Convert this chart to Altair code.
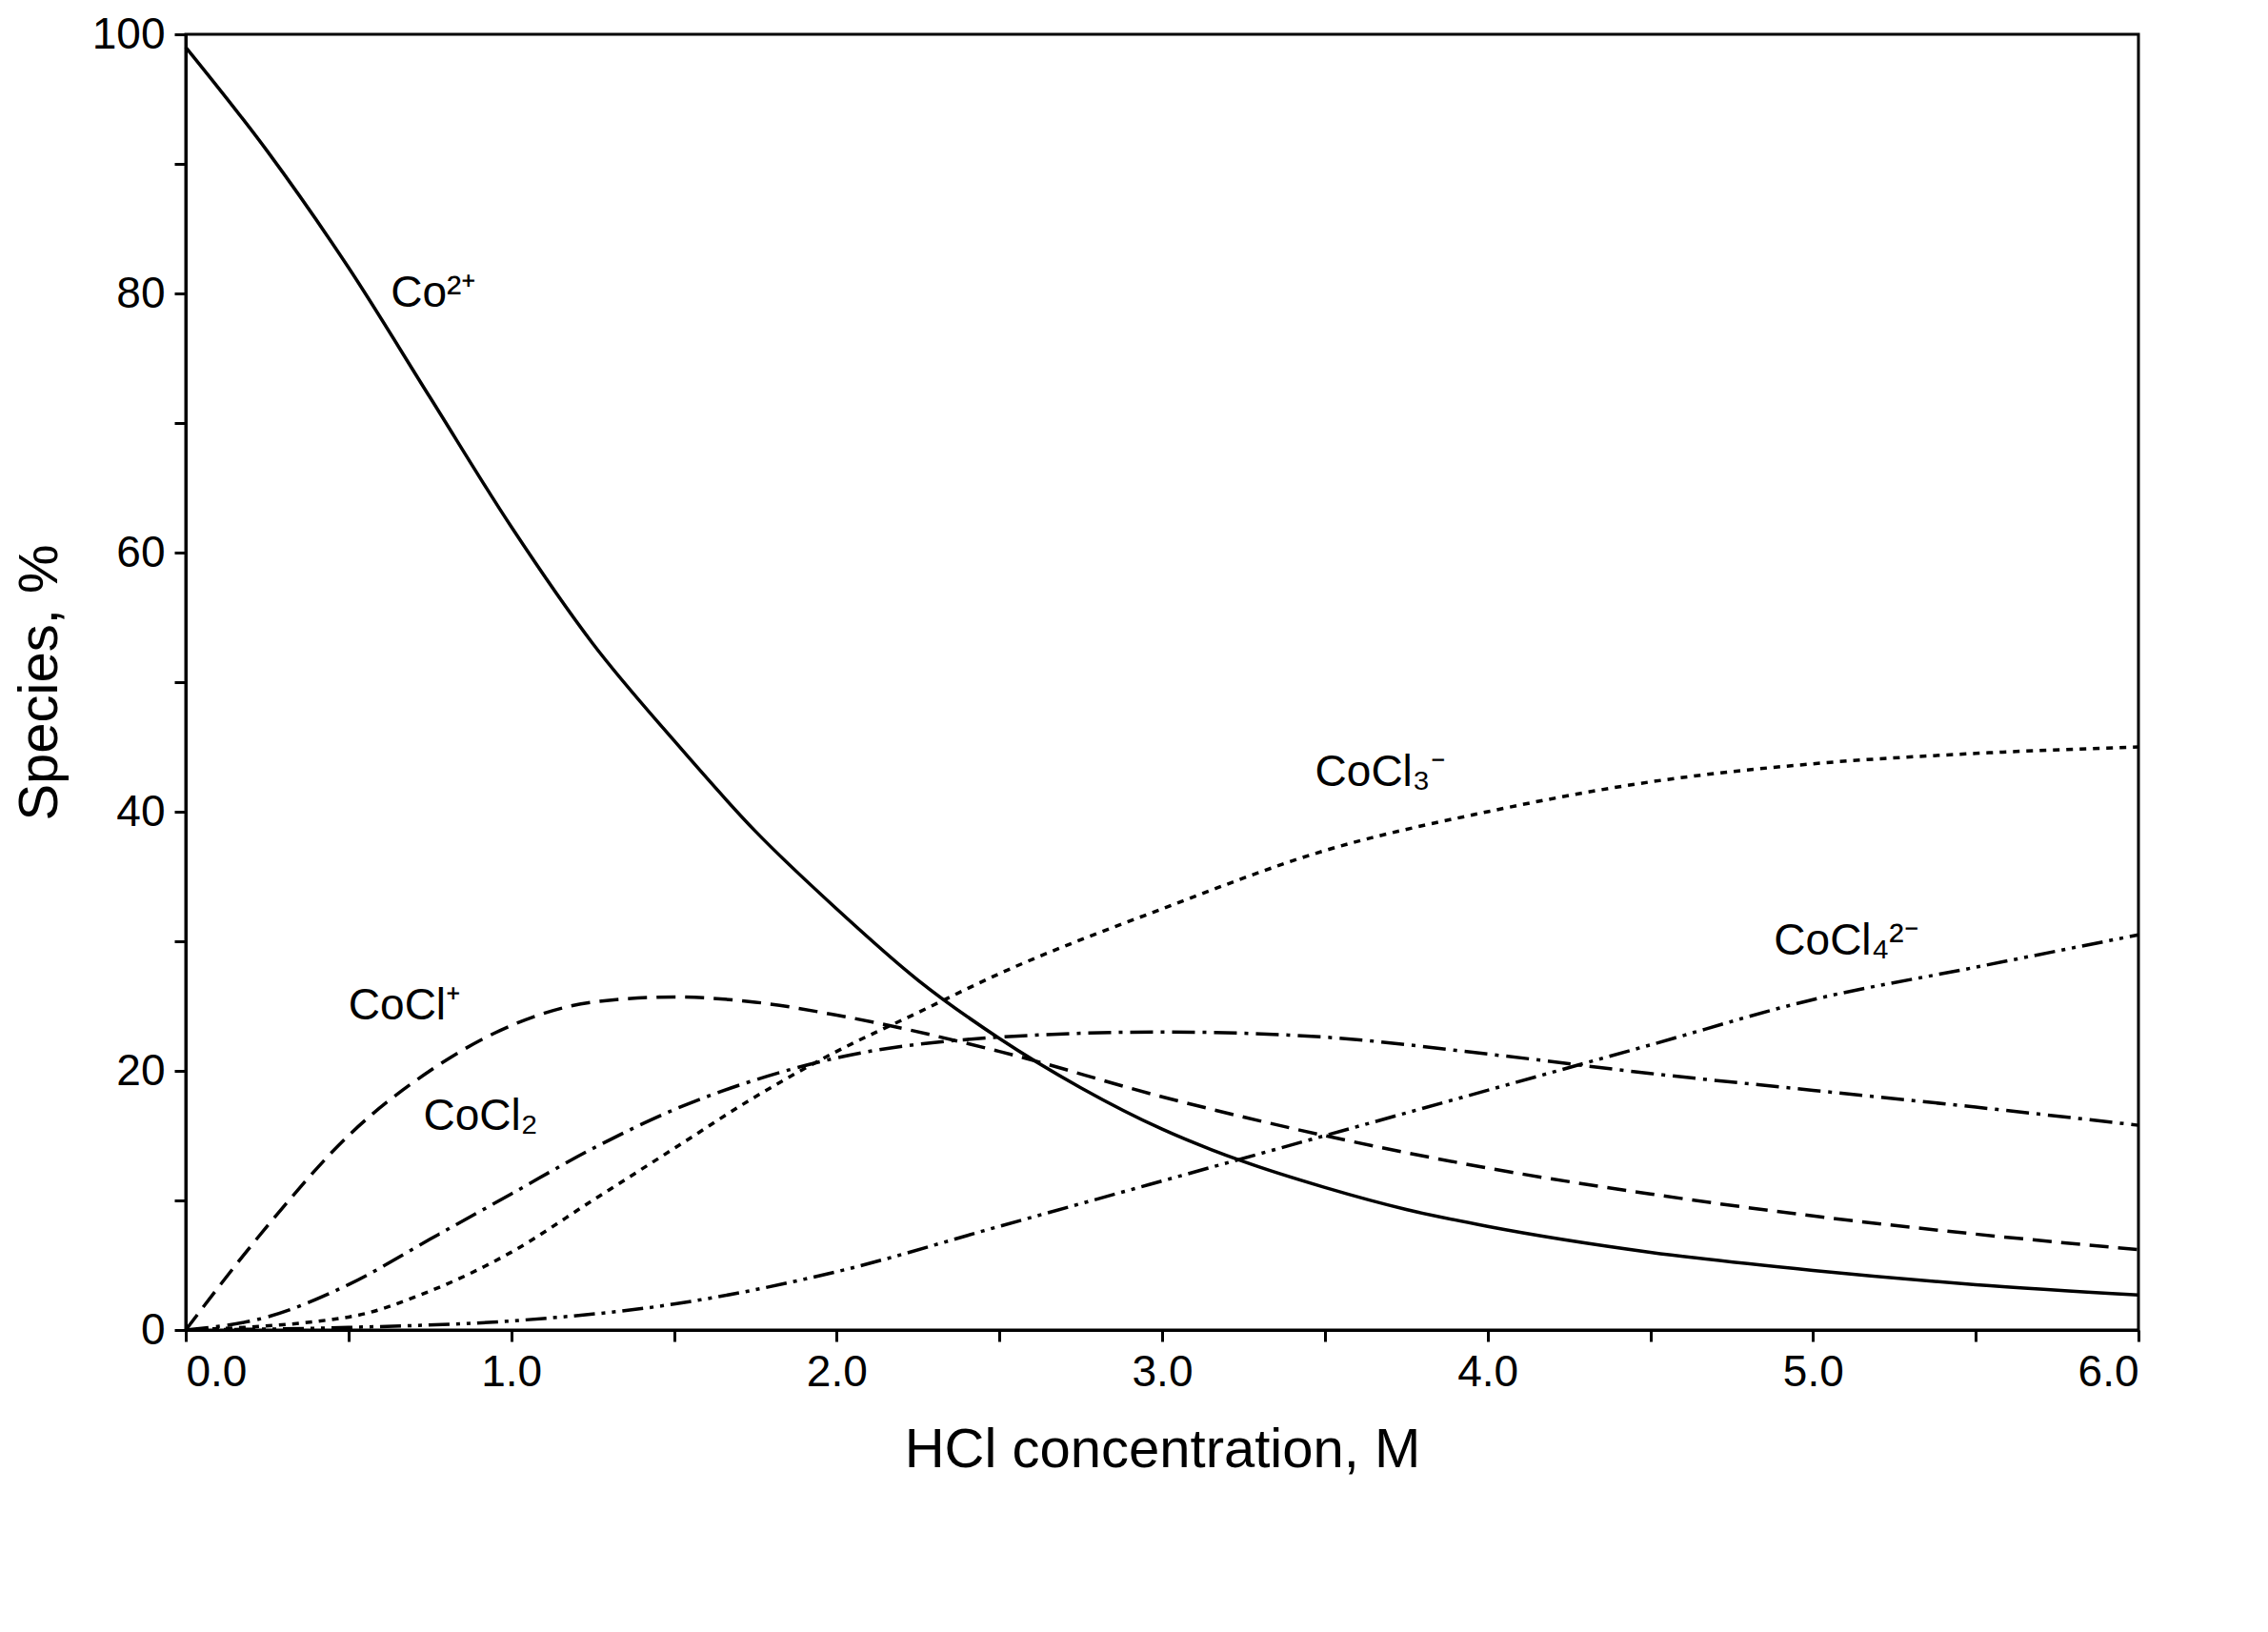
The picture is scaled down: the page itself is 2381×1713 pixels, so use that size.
import altair as alt
import pandas as pd

x_co = [0,0.25,0.5,0.75,1,1.25,1.5,1.75,2,2.25,2.5,2.75,3,3.25,3.5,3.75,4,4.5,5,5.5,6]
y_co = [99,91,82,72,62,53,45.5,38.5,32.5,27,22.5,18.7,15.5,13,11,9.3,8,6,4.6,3.5,2.7]
x_c1 = [0,0.25,0.5,0.75,1,1.25,1.5,1.75,2,2.5,3,3.5,4,4.5,5,5.5,6]
y_c1 = [0,8,15,20,23.5,25.3,25.7,25.3,24.3,21.5,18,15,12.5,10.5,8.8,7.4,6.2]
x_c2 = [0,0.25,0.5,0.75,1,1.25,1.5,1.75,2,2.5,3,3.5,4,4.5,5,5.5,6]
y_c2 = [0,1,3.5,7,10.5,14,17,19.3,21,22.6,23,22.6,21.3,19.8,18.5,17.2,15.8]
x_c3 = [0,0.5,0.75,1,1.25,1.5,1.75,2,2.25,2.5,3,3.5,4,4.5,5,5.5,6]
y_c3 = [0,1,3,6,10,14,18,21.5,24.5,27.5,32.5,37,40,42.3,43.7,44.5,45]
x_c4 = [0,0.5,1,1.5,2,2.5,3,3.5,4,4.5,5,5.5,6]
y_c4 = [0,0.2,0.7,2,4.5,8,11.5,15,18.5,22,25.5,28,30.5]

label_text = ["Co²⁺", "CoCl⁺", "CoCl₂", "CoCl₃⁻", "CoCl₄²⁻"]
label_x = [0.63, 0.5, 0.73, 3.47, 4.88]
label_y = [80, 25, 16.5, 43, 30]

series = [(x_co, y_co, None), (x_c1, y_c1, [20, 10]), (x_c2, y_c2, [24, 8, 4, 8]),
          (x_c3, y_c3, [7, 7]), (x_c4, y_c4, [22, 7, 4, 7, 4, 7])]

xs = alt.Scale(domain=[0, 6], nice=False)
ys = alt.Scale(domain=[0, 100], nice=False)
xax = alt.Axis(values=[i*0.5 for i in range(13)], labelExpr="datum.value % 1 == 0 ? datum.label : ''",
               title="HCl concentration, M", grid=False, tickSize=12, titlePadding=30)
yax = alt.Axis(values=list(range(0, 101, 10)), labelExpr="datum.value % 20 == 0 ? datum.label : ''",
               title="Species,  %", grid=False, tickSize=12, titlePadding=25)

layers = []
for i, (xv, yv, dash) in enumerate(series):
    df = pd.DataFrame({"x": xv, "y": yv})
    if i == 0:
        enc = dict(x=alt.X("x:Q", scale=xs, axis=xax), y=alt.Y("y:Q", scale=ys, axis=yax))
    else:
        enc = dict(x=alt.X("x:Q", scale=xs), y=alt.Y("y:Q", scale=ys))
    kw = dict(color="black", strokeWidth=3.5, interpolate="monotone")
    if dash:
        kw["strokeDash"] = dash
    layers.append(alt.Chart(df).mark_line(**kw).encode(**enc))

ldf = pd.DataFrame({"x": label_x, "y": label_y, "t": label_text})
layers.append(alt.Chart(ldf).mark_text(align="left", baseline="middle", fontSize=46,
                                       font="Arial", color="black")
              .encode(x=alt.X("x:Q", scale=xs), y=alt.Y("y:Q", scale=ys), text="t:N"))

chart = alt.layer(*layers).properties(width=2050, height=1360, background="white").configure_view(
    stroke="black", strokeWidth=3).configure_axis(
    labelFont="Arial", titleFont="Arial", labelFontSize=46, titleFontSize=58,
    titleFontWeight="normal", labelColor="black", titleColor="black",
    domainColor="black", tickColor="black", domainWidth=3, tickWidth=3, labelPadding=10
)

chart.save("out.html", embed_options={"renderer": "svg", "actions": False})
